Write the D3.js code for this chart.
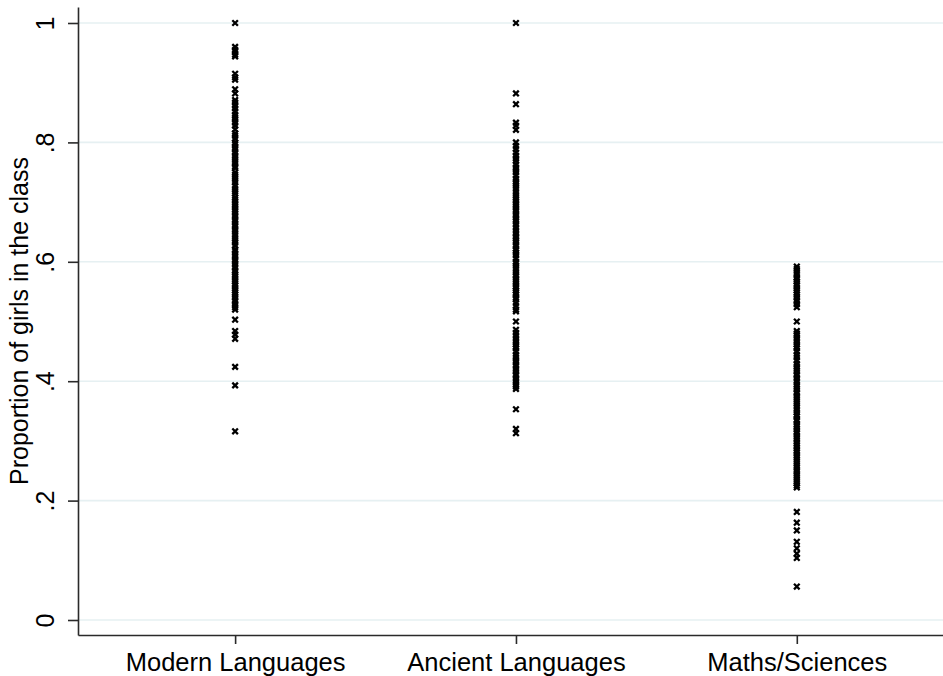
<!DOCTYPE html>
<html lang="en">
    <head>
        <meta charset="utf-8">
        <title>Proportion of girls by track</title>
        <script type="text/javascript" src="https://cdn.jsdelivr.net/npm/d3@7/dist/d3.min.js"></script>
        <style type="text/css">
            body { margin: 0; background: #fff; }
            .axis path,
            .axis line {
                fill: none;
                stroke: #2a2a2a;
                stroke-width: 1.6px;
            }
            .axis text {
                font-family: "Liberation Sans", Arial, sans-serif;
                fill: #000;
            }
            .grid line {
                stroke: #e6f0f2;
                stroke-width: 1.6px;
            }
        </style>
    </head>
    <body>
        <div class="chart"></div>
        <script type="text/javascript">
            // categories and tick labels
            var categories = ["Modern Languages", "Ancient Languages", "Maths/Sciences"];
            var yTicks = [0, 0.2, 0.4, 0.6, 0.8, 1];
            var yTickLabels = ["0", ".2", ".4", ".6", ".8", "1"];

            // proportion of girls per class, one array per track
            var modern = [1.00, 0.960, 0.955, 0.952, 0.947, 0.944, 0.915, 0.909, 0.905, 0.889, 0.882,
                          0.871, 0.867, 0.862, 0.857, 0.852, 0.846, 0.842, 0.838, 0.833, 0.828, 0.822,
                          0.815, 0.811, 0.806, 0.800, 0.797, 0.792, 0.788, 0.783, 0.778, 0.774, 0.769,
                          0.765, 0.760, 0.757, 0.750, 0.746, 0.742, 0.737, 0.733, 0.727, 0.722, 0.718,
                          0.714, 0.708, 0.704, 0.700, 0.696, 0.692, 0.688, 0.684, 0.680, 0.676, 0.671,
                          0.667, 0.663, 0.659, 0.654, 0.650, 0.645, 0.640, 0.636, 0.632, 0.627, 0.621,
                          0.618, 0.613, 0.609, 0.604, 0.600, 0.596, 0.591, 0.586, 0.583, 0.579, 0.575,
                          0.571, 0.567, 0.563, 0.560, 0.556, 0.552, 0.548, 0.545, 0.541, 0.536, 0.533,
                          0.529, 0.524, 0.520, 0.503, 0.484, 0.478, 0.471, 0.424, 0.393, 0.316];
            var ancient = [1.00, 0.882, 0.864, 0.833, 0.828, 0.821, 0.800, 0.794, 0.789, 0.783, 0.778,
                           0.773, 0.769, 0.763, 0.758, 0.754, 0.750, 0.745, 0.739, 0.735, 0.731, 0.727,
                           0.722, 0.717, 0.712, 0.708, 0.704, 0.700, 0.696, 0.692, 0.688, 0.684, 0.679,
                           0.675, 0.671, 0.667, 0.662, 0.657, 0.652, 0.648, 0.643, 0.640, 0.636, 0.632,
                           0.627, 0.622, 0.619, 0.615, 0.611, 0.606, 0.600, 0.597, 0.593, 0.588, 0.583,
                           0.579, 0.576, 0.571, 0.567, 0.563, 0.559, 0.556, 0.552, 0.548, 0.545, 0.540,
                           0.537, 0.531, 0.526, 0.520, 0.517, 0.500, 0.486, 0.481, 0.476, 0.471, 0.467,
                           0.462, 0.458, 0.455, 0.450, 0.444, 0.440, 0.435, 0.431, 0.426, 0.421, 0.417,
                           0.412, 0.409, 0.404, 0.400, 0.395, 0.391, 0.387, 0.353, 0.320, 0.313];
            var maths = [0.592, 0.588, 0.583, 0.579, 0.574, 0.571, 0.567, 0.563, 0.560, 0.556, 0.552,
                         0.548, 0.545, 0.541, 0.536, 0.533, 0.529, 0.524, 0.500, 0.484, 0.480, 0.476,
                         0.471, 0.467, 0.462, 0.458, 0.455, 0.450, 0.444, 0.440, 0.435, 0.429, 0.425,
                         0.421, 0.417, 0.412, 0.409, 0.405, 0.400, 0.395, 0.391, 0.387, 0.382, 0.379,
                         0.375, 0.370, 0.366, 0.362, 0.357, 0.353, 0.348, 0.344, 0.341, 0.336, 0.333,
                         0.328, 0.324, 0.320, 0.316, 0.313, 0.308, 0.304, 0.300, 0.296, 0.292, 0.288,
                         0.284, 0.280, 0.276, 0.272, 0.268, 0.263, 0.259, 0.255, 0.250, 0.246, 0.242,
                         0.238, 0.233, 0.229, 0.225, 0.222, 0.181, 0.163, 0.150, 0.131, 0.120, 0.111,
                         0.104, 0.056];
            var series = [modern, ancient, maths];

            var w = 943;
            var h = 676;
            // plot area edges (note: "top" is reserved on window, so use other names)
            var plotLeft = 78, plotRight = 943, plotTop = 7, plotBottom = 635;

            var svg = d3.select("body div.chart")
                        .append("svg")
                        .attr("width", w)
                        .attr("height", h);

            // y: 0 sits at 620px, 1 at 23px; axis runs a bit past both ends
            var yScale = d3.scaleLinear()
                           .domain([(620 - plotBottom) / 597, (620 - plotTop) / 597])
                           .range([plotBottom, plotTop]);

            // x: point scale, uneven outer space like the picture
            var xScale = d3.scalePoint()
                           .domain(categories)
                           .range([plotLeft, plotRight])
                           .padding(0.54)
                           .align(0.518);

            // grid lines
            svg.append("g")
               .attr("class", "grid")
               .selectAll("line")
               .data(yTicks)
               .enter()
               .append("line")
               .attr("x1", plotLeft)
               .attr("x2", plotRight)
               .attr("y1", function(d){return yScale(d);})
               .attr("y2", function(d){return yScale(d);});

            // points, drawn as small "x" marks
            var pts = [];
            series.forEach(function(s, i) {
                s.forEach(function(v){ pts.push([categories[i], v]); });
            });
            svg.append("g")
               .selectAll("path")
               .data(pts)
               .enter()
               .append("path")
               .attr("transform", function(d){return "translate(" + xScale(d[0]) + "," + yScale(d[1]) + ")";})
               .attr("d", "M-2.8,-2.8L2.8,2.8M-2.8,2.8L2.8,-2.8")
               .attr("stroke", "#000")
               .attr("stroke-width", 2.3)
               .attr("fill", "none");

            // y axis, with vertical tick labels
            var yAxis = d3.axisLeft(yScale)
                          .tickValues(yTicks)
                          .tickSize(10)
                          .tickSizeOuter(0)
                          .tickFormat(function(d, i){return yTickLabels[i];});
            var gy = svg.append("g")
               .attr("class", "axis")
               .attr("transform", "translate(" + plotLeft + ",0)")
               .call(yAxis);
            gy.selectAll("text")
              .attr("font-size", "25px")
              .attr("x", null)
              .attr("dy", null)
              .attr("text-anchor", "middle")
              .attr("transform", "translate(-24,0) rotate(-90)");

            // x axis
            var xAxis = d3.axisBottom(xScale)
                          .tickSize(9)
                          .tickSizeOuter(0);
            var gx = svg.append("g")
               .attr("class", "axis")
               .attr("transform", "translate(0," + plotBottom + ")")
               .call(xAxis);
            gx.selectAll("text")
              .attr("font-size", "25.5px")
              .attr("dy", null)
              .attr("y", 36);

            // y axis title
            svg.append("text")
               .attr("transform", "translate(28," + ((plotTop + plotBottom) / 2) + ") rotate(-90)")
               .attr("text-anchor", "middle")
               .attr("font-family", "Liberation Sans, Arial, sans-serif")
               .attr("font-size", "25px")
               .text("Proportion of girls in the class");
        </script>
    </body>
</html>
